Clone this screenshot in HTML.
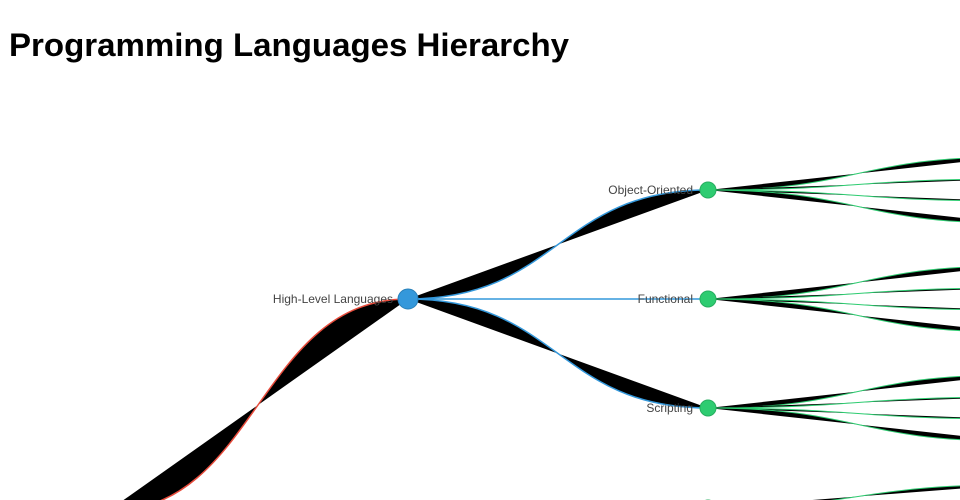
<!DOCTYPE html>
<html><head><meta charset="utf-8"><style>
html,body{margin:0;padding:0;background:#fff;width:960px;height:500px;overflow:hidden}
svg{display:block}
text{font-family:"Liberation Sans",sans-serif}
.lbl{font-size:12px;fill:#444}
</style></head><body>
<svg width="960" height="500" viewBox="0 0 960 500">
<text x="9" y="56" font-size="32" font-weight="bold" fill="#000" textLength="560" lengthAdjust="spacingAndGlyphs">Programming Languages Hierarchy</text>
<g fill="#000" stroke-width="1.5">
<path d="M108,511 C258,511 258,299 408,299" stroke="#e74c3c"/>
<path d="M408,299 C558,299 558,190 708,190" stroke="#3498db"/>
<path d="M408,299 C558,299 558,299 708,299" stroke="#3498db"/>
<path d="M408,299 C558,299 558,408 708,408" stroke="#3498db"/>
<g stroke="#2ecc71" stroke-width="1">
<path d="M708,190 C858,190 858,157 1008,157"/>
<path d="M708,190 C858,190 858,179 1008,179"/>
<path d="M708,190 C858,190 858,201 1008,201"/>
<path d="M708,190 C858,190 858,223 1008,223"/>
<path d="M708,299 C858,299 858,266 1008,266"/>
<path d="M708,299 C858,299 858,288 1008,288"/>
<path d="M708,299 C858,299 858,310 1008,310"/>
<path d="M708,299 C858,299 858,332 1008,332"/>
<path d="M708,408 C858,408 858,375 1008,375"/>
<path d="M708,408 C858,408 858,397 1008,397"/>
<path d="M708,408 C858,408 858,419 1008,419"/>
<path d="M708,408 C858,408 858,441 1008,441"/>
<path d="M708,508 C858,508 858,485 1008,485"/>
</g>
</g>
<circle cx="408" cy="299" r="10" fill="#3498db" stroke="#2980b9" stroke-width="1"/>
<circle cx="708" cy="190" r="8" fill="#2ecc71" stroke="#27ae60" stroke-width="1"/>
<circle cx="708" cy="299" r="8" fill="#2ecc71" stroke="#27ae60" stroke-width="1"/>
<circle cx="708" cy="408" r="8" fill="#2ecc71" stroke="#27ae60" stroke-width="1"/>
<circle cx="708" cy="508" r="8" fill="#2ecc71" stroke="#27ae60" stroke-width="1"/>
<text class="lbl" x="393" y="303" text-anchor="end">High-Level Languages</text>
<text class="lbl" x="693" y="194" text-anchor="end">Object-Oriented</text>
<text class="lbl" x="693" y="303" text-anchor="end">Functional</text>
<text class="lbl" x="693" y="412" text-anchor="end">Scripting</text>
</svg>
</body></html>
